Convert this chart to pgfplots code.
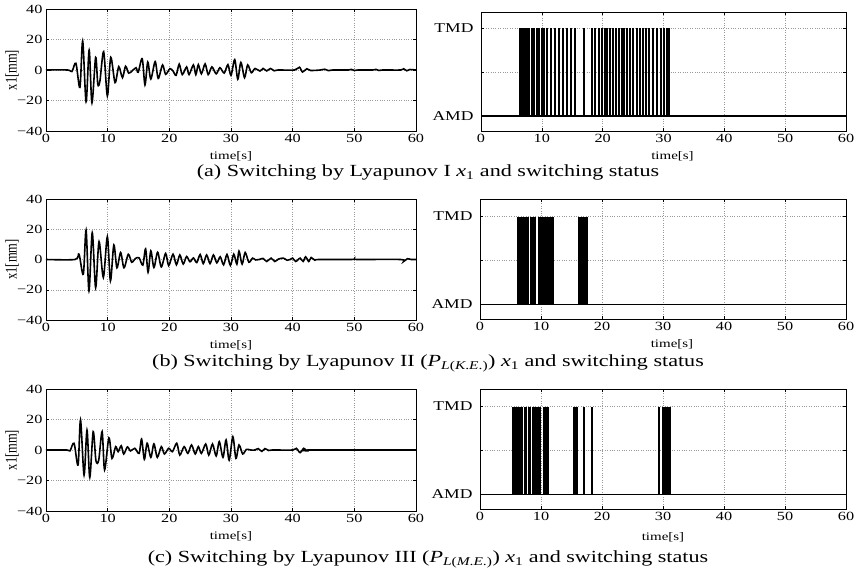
\documentclass[border=0pt]{standalone}
\usepackage{fontspec}
\setmainfont{Liberation Serif}[FakeStretch=1.3]
\newfontfamily\plainserif{Liberation Serif}
\usepackage{graphicx}
\usepackage{pgfplots}
\pgfplotsset{compat=1.18}

\pgfplotsset{
  base/.style={
    scale only axis, anchor=north west,
    xmin=0, xmax=60, xtick={0,10,...,60},
    grid=major, grid style={dotted, gray!80, line width=0.5pt},
    tick align=inside, major tick length=3pt, tick style={black, line width=0.5pt},
    axis line style={line width=0.8pt},
    /pgf/number format/assume math mode=true,
    ticklabel style={font=\fontsize{12.5}{14}\selectfont},
    xlabel={time[s]},
    every axis x label/.style={at={(axis description cs:0.5,0)}, anchor=center, yshift=-25pt, font=\fontsize{11.5}{12}\selectfont},
  },
  leftax/.style={base, width=370pt, ymin=-40, ymax=40, ytick={-40,-20,0,20,40},
    yticklabels={−40,−20,0,20,40},
    ylabel={\scalebox{1}[1.3]{\plainserif\fontsize{12.5}{13}\selectfont x1[mm]}},
    every axis y label/.style={at={(axis description cs:-0.092,0.5)}, rotate=90, anchor=center}},
  rightax/.style={base, ytick={0,0.5,1}, yticklabels={AMD,,TMD},
    yticklabel style={font=\fontsize{13.5}{14}\selectfont, xshift=-4pt}},
  sig/.style={black, line width=1.6pt, smooth, tension=0.5, mark=none},
  sw/.style={black, line width=2pt, ycomb, mark=none},
  basel/.style={black, line width=1.2pt, mark=none},
}

\begin{document}
\begin{tikzpicture}
\useasboundingbox (0pt,0pt) rectangle (856pt,-578pt);

% ---------- Row (a) ----------
\begin{axis}[leftax, height=122pt, at={(46pt,-9pt)}]
\addplot[sig] coordinates {(0,0)(3.5,0)(4.2,-1)(4.85,4.4)(5.5,-11.4)(5.95,19)(6.5,-20.8)(7.0,13)(7.45,-21.5)(8.05,8.3)(8.4,-9.4)(8.75,-7)(9.35,12)(9.95,-17)(10.5,8.3)(11.2,-8.3)(11.8,2.2)(12.4,-5)(12.9,2.5)(13.4,-2)(14.0,-0.5)(14.6,1.5)(14.95,-1.5)(15.6,7.4)(16.05,-9.8)(16.5,5.2)(17.0,-5.9)(17.7,5.5)(18.2,-5.5)(18.9,3.3)(19.4,-2.8)(20.1,0.9)(20.6,-0.7)(21.1,-3.5)(21.6,3.8)(22.1,-3)(22.8,2)(23.2,-3)(23.9,3.3)(24.3,-3)(24.7,3.5)(25.2,-2.5)(25.8,4)(26.3,-3)(26.9,2)(27.6,-2.5)(28.2,1.5)(28.9,-2)(29.5,3.5)(30.0,-3.5)(30.6,6.8)(31.1,-6)(31.6,5)(32.2,-5)(32.7,3.3)(33.3,-1.8)(33.9,1)(34.7,-0.7)(35.2,1)(35.8,-0.6)(36.4,1)(37.0,-0.5)(37.6,0)(40.3,0)(41.1,1.8)(41.6,-1.3)(42.3,0.8)(42.9,-0.3)(44.5,0)(45.2,0.5)(45.8,-0.4)(46.5,0)(49,0)(49.5,0.4)(50,-0.3)(50.6,0)(53,0)(53.5,0.4)(54,-0.3)(54.6,0)(57.5,0)(58,0.8)(58.5,-0.5)(59,0.3)(60,0)};
\end{axis}

\begin{axis}[rightax, width=365pt, height=119pt, ymin=-0.17, ymax=1.18, at={(481pt,-12pt)},
  every axis x label/.append style={xshift=9pt}]
\addplot[basel] coordinates {(0,0)(60,0)};
\addplot[sw] coordinates {(6.4,1)(6.55,1)(6.7,1)(6.85,1)(7.0,1)(7.23,1)(7.62,1)(7.94,1)(8.33,1)(8.71,1)(9.15,1)(9.59,1)(10.09,1)(10.41,1)(10.8,1)(11.5,1)(12.17,1)(12.82,1)(13.43,1)(14.08,1)(14.74,1)(15.4,1)(16.93,1)(18.19,1)(18.79,1)(19.35,1)(19.84,1)(20.33,1)(20.77,1)(21.2,1)(21.7,1)(22.19,1)(22.69,1)(23.13,1)(23.56,1)(24.06,1)(24.5,1)(25.05,1)(25.6,1)(26.14,1)(26.58,1)(27.13,1)(27.67,1)(28.33,1)(28.99,1)(29.54,1)(30.08,1)(30.52,1)(30.91,1)};
\end{axis}

% ---------- Row (b) ----------
\begin{axis}[leftax, height=121pt, at={(46pt,-199pt)}]
\addplot[sig] coordinates {(0,0)(4.7,0)(5.35,3.5)(6.05,-9.7)(6.5,19.4)(6.97,-20.8)(7.5,17.7)(8.05,-18.6)(8.6,11.8)(9.3,-11.8)(9.95,15)(10.45,-14.1)(11.0,9.6)(11.5,-5.5)(12.1,4.6)(12.65,-5.5)(13.35,3.5)(13.9,-1.8)(14.5,0.7)(15.1,1.1)(15.7,-3.7)(16.15,7)(16.55,-8.4)(17.0,5.7)(17.5,-5.3)(18.1,4.8)(18.7,-4.9)(19.4,4)(19.9,-4)(20.6,3.5)(21.15,-3.5)(21.7,3)(22.25,-3)(22.8,2)(23.35,-1.5)(23.9,1)(24.45,-2)(25.0,3.3)(25.5,-2.7)(26.05,3)(26.6,-2.7)(27.15,3)(27.7,-2.2)(28.25,1.8)(28.8,-3.5)(29.35,3.3)(29.9,-3.9)(30.45,3.5)(30.95,-3)(31.3,5.5)(31.8,-3)(32.3,4.6)(32.9,-1.8)(33.5,0.9)(34.0,-0.3)(34.6,0)(35.2,0.7)(35.8,-1.3)(36.5,0.9)(37.1,-1.3)(37.7,0.3)(38.5,0.9)(39.1,-0.5)(39.6,0)(40.0,0.9)(40.5,-1.3)(41.2,0.9)(41.7,-1.3)(42.1,1.8)(42.6,-1.3)(43.0,1.3)(43.6,-0.5)(44.2,0)(49.5,0)(50,0.4)(50.6,0)(57.5,0)(58,-1.3)(58.6,0.5)(59.2,0)(60,0)};
\end{axis}

\begin{axis}[rightax, width=366pt, height=120pt, ymin=-0.17, ymax=1.2, at={(480pt,-199pt)},
  every axis x label/.append style={xshift=9pt}]
\addplot[basel] coordinates {(0,0)(60,0)};
\addplot[sw] coordinates {(6.23,1)(6.45,1)(6.72,1)(7.0,1)(7.43,1)(7.7,1)(7.93,1)(8.3,1)(8.74,1)(8.96,1)(9.62,1)(9.84,1)(10.11,1)(10.38,1)(10.71,1)(11.04,1)(11.37,1)(11.69,1)(12.02,1)(16.28,1)(16.45,1)(16.62,1)(16.8,1)(16.98,1)(17.16,1)(17.33,1)(17.49,1)};
\end{axis}

% ---------- Row (c) ----------
\begin{axis}[leftax, height=122pt, at={(46pt,-389pt)}]
\addplot[sig] coordinates {(0,0)(3.4,0)(3.9,-0.5)(4.55,4.4)(5.2,-9.8)(5.6,19.7)(6.17,-16.4)(6.65,13)(7.1,-18)(7.65,12)(8.1,-7)(8.55,-6.6)(9.1,12)(9.5,-13)(10.2,8)(10.7,-5.5)(11.3,2.2)(11.7,-1.1)(12.2,2.8)(12.6,-2.6)(13.2,2)(13.7,-0.6)(14.4,1.1)(15.1,-2.2)(15.5,7.2)(15.95,-6.1)(16.4,4.4)(17.0,-4.8)(17.5,4)(18.05,-4.8)(18.7,2.2)(19.2,-2.6)(19.9,1.1)(20.5,-1.1)(21.2,4.4)(21.7,-3.3)(22.4,2.2)(23.0,-2.2)(23.6,3.3)(24.2,-2.6)(24.7,2.2)(25.2,-2.2)(25.9,3.9)(26.4,-3.3)(27.0,3.9)(27.6,-3.9)(28.1,5.5)(28.7,-4.8)(29.2,6.6)(29.7,-6.6)(30.3,8.7)(30.8,-5.5)(31.3,3.3)(31.9,-2.6)(32.5,0.4)(33.2,0)(33.9,0)(34.4,0.9)(35.0,-0.9)(35.5,0.9)(36.1,-0.3)(36.7,0)(40.0,0)(40.6,1.1)(41.2,-1.7)(41.8,1.1)(42.3,-0.5)(42.9,0)(60,0)};
\end{axis}

\begin{axis}[rightax, width=366pt, height=120pt, ymin=-0.17, ymax=1.2, at={(480pt,-389pt)},
  every axis x label/.append style={yshift=-3pt}]
\addplot[basel] coordinates {(0,0)(60,0)};
\addplot[sw] coordinates {(5.36,1)(5.55,1)(5.75,1)(5.95,1)(6.15,1)(6.35,1)(6.5,1)(6.89,1)(7.32,1)(7.54,1)(7.98,1)(8.2,1)(8.63,1)(9.07,1)(9.29,1)(9.62,1)(9.84,1)(10.49,1)(10.71,1)(10.93,1)(11.15,1)(15.46,1)(15.68,1)(15.9,1)(17.05,1)(18.36,1)(29.29,1)(30.0,1)(30.27,1)(30.55,1)(30.82,1)(31.1,1)};
\end{axis}

% ---------- Captions ----------
\node[anchor=base, font=\fontsize{17}{20}\selectfont] at (428pt,-176.7pt)
  {(a) Switching by Lyapunov I \textit{x}\textsubscript{1} and switching status};
\node[anchor=base, font=\fontsize{17}{20}\selectfont] at (428pt,-366.7pt)
  {(b) Switching by Lyapunov II (\textit{P}\textsubscript{\textit{L}(\textit{K}.\textit{E}.)}) \textit{x}\textsubscript{1} and switching status};
\node[anchor=base, font=\fontsize{17}{20}\selectfont] at (428pt,-562.7pt)
  {(c) Switching by Lyapunov III (\textit{P}\textsubscript{\textit{L}(\textit{M}.\textit{E}.)}) \textit{x}\textsubscript{1} and switching status};
\end{tikzpicture}
\end{document}
